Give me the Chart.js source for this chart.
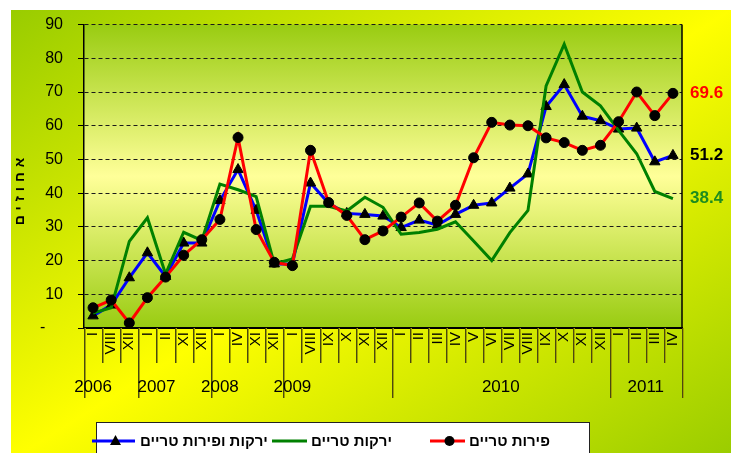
<!DOCTYPE html>
<html>
<head>
<meta charset="utf-8">
<script src="https://cdn.jsdelivr.net/npm/chart.js@4/dist/chart.umd.min.js"></script>
<style>
  html, body { margin: 0; padding: 0; background: #fff; }
  #wrap { width: 739px; height: 453px; }
</style>
</head>
<body>
<div id="wrap"><canvas id="chart" width="739" height="453"></canvas></div>
<script>
// month of each observation (roman numerals), grouped by year below
const months = ['I','VIII','XII', 'I','II','XI','XII', 'I','IV','XI','XII', 'I','VIII','IX','X','XI','XII',
  'I','II','III','IV','V','VI','VII','VIII','IX','X','XI','XII', 'I','II','III','IV'];
const years = ['2006','2007','2008','2009','2010','2011'];
const yearSpans = [3, 4, 4, 6, 12, 4];
const yearLabelAt = [0, 3.5, 7, 11, 22.5, 30.5];   // category index the year text is centred on

const fruitAndVeg = [3.6, 6.8, 14.9, 22.3, 15.3, 25.2, 25.2, 37.8, 47.0, 34.9, 19.0, 19.0, 43.0, 37.0, 34.0, 33.7, 33.2,
  29.8, 32.0, 30.5, 33.7, 36.4, 37.1, 41.5, 45.7, 65.7, 72.2, 62.8, 61.5, 59.0, 59.3, 49.3, 51.2];
const veg = [4.4, 6.0, 25.7, 32.7, 16.0, 28.4, 26.0, 42.7, 41.0, 39.0, 19.0, 20.5, 36.1, 36.1, 34.7, 38.8, 35.8,
  27.8, 28.3, 29.3, 31.5, 25.8, 20.0, 28.3, 34.9, 71.8, 84.2, 70.0, 65.9, 58.6, 51.7, 40.5, 38.4];
const fruit = [6.0, 8.3, 1.5, 9.0, 15.1, 21.6, 26.2, 32.2, 56.5, 29.2, 19.5, 18.5, 52.7, 37.2, 33.4, 26.2, 28.8,
  32.9, 37.1, 31.7, 36.4, 50.5, 61.0, 60.2, 60.0, 56.4, 55.0, 52.7, 54.2, 61.2, 70.0, 63.0, 69.6];

const seriesNames = ['ירקות ופירות טריים', 'ירקות טריים', 'פירות טריים'];
const seriesColors = ['#0000ff', '#008000', '#ff0000'];
const endLabelColors = ['#000000', '#1e8c1e', '#ff0000'];
const yTitle = 'אחוזים';

const FONT = '"Liberation Sans", Arial, sans-serif';
Chart.defaults.font.family = FONT;
Chart.defaults.color = '#000';

const backdrop = {
  id: 'backdrop',
  beforeDraw(chart) {
    const { ctx, chartArea: a } = chart;
    ctx.save();
    // diagonal green-yellow-green fill of the chart area
    const x0 = 11, y0 = 10, w = 720, h = 450;
    const vx = 1 / (2 * w), vy = 1 / (2 * h), n = vx * vx + vy * vy;
    const g = ctx.createLinearGradient(x0, y0, x0 + vx / n, y0 + vy / n);
    g.addColorStop(0, '#99cc00');
    g.addColorStop(0.5, '#ffff00');
    g.addColorStop(1, '#99cc00');
    ctx.fillStyle = g;
    ctx.fillRect(x0, y0, w, h);
    // plot area
    const pg = ctx.createLinearGradient(0, a.top, 0, a.bottom);
    pg.addColorStop(0, '#99cc11');
    pg.addColorStop(0.5, '#ffff99');
    pg.addColorStop(1, '#99cc11');
    ctx.fillStyle = pg;
    ctx.fillRect(a.left, a.top, a.width, a.height);
    ctx.restore();
  }
};

const extras = {
  id: 'extras',
  afterDraw(chart) {
    const { ctx, chartArea: a, scales: { x, y } } = chart;
    ctx.save();

    // right border of plot
    ctx.strokeStyle = '#000';
    ctx.lineWidth = 1.5;
    ctx.beginPath();
    ctx.moveTo(a.right, a.top);
    ctx.lineTo(a.right, a.bottom);
    ctx.stroke();

    // category separators below the axis, longer at year boundaries
    const step = x.getPixelForValue(1) - x.getPixelForValue(0);
    const yearEnds = [0];
    yearSpans.forEach(s => yearEnds.push(yearEnds[yearEnds.length - 1] + s));
    for (let i = 0; i <= months.length; i++) {
      const px = Math.round(x.getPixelForValue(i) - step / 2) + 0.5;
      const long = yearEnds.includes(i);
      const bottom = long ? a.bottom + 70 : a.bottom + 35;
      ctx.lineWidth = 1;
      ctx.strokeStyle = '#a3a300';
      ctx.beginPath(); ctx.moveTo(px + 1, a.bottom); ctx.lineTo(px + 1, bottom); ctx.stroke();
      ctx.strokeStyle = '#4a4a10';
      ctx.beginPath(); ctx.moveTo(px, a.bottom); ctx.lineTo(px, bottom); ctx.stroke();
    }

    // year labels
    ctx.fillStyle = '#000';
    ctx.font = '17px ' + FONT;
    ctx.textAlign = 'center';
    ctx.textBaseline = 'middle';
    years.forEach((yr, i) => ctx.fillText(yr, x.getPixelForValue(yearLabelAt[i]), a.bottom + 59));

    // last values at the right
    ctx.font = 'bold 17px ' + FONT;
    ctx.textAlign = 'left';
    chart.data.datasets.forEach((ds, i) => {
      const v = ds.data[ds.data.length - 1];
      ctx.fillStyle = endLabelColors[i];
      ctx.fillText(v.toFixed(1), a.right + 8, y.getPixelForValue(v));
    });

    // y axis title
    ctx.save();
    ctx.translate(20, 189);
    ctx.rotate(-Math.PI / 2);
    ctx.font = 'bold 14px ' + FONT;
    ctx.fillStyle = '#000';
    ctx.textAlign = 'center';
    ctx.textBaseline = 'middle';
    if ('letterSpacing' in ctx) ctx.letterSpacing = '5px';
    ctx.fillText(yTitle, 0, 0);
    ctx.restore();

    // legend box
    ctx.fillStyle = '#fff';
    ctx.fillRect(96, 422, 493, 40);
    ctx.strokeStyle = '#222';
    ctx.lineWidth = 1;
    ctx.strokeRect(96.5, 422.5, 493, 40);
    const items = [
      { ds: 0, x1: 92, x2: 135, tx: 140 },
      { ds: 1, x1: 272, x2: 307, tx: 311 },
      { ds: 2, x1: 430, x2: 465, tx: 469 }
    ];
    const ly = 441;
    items.forEach(it => {
      const ds = chart.data.datasets[it.ds];
      ctx.strokeStyle = ds.borderColor;
      ctx.lineWidth = 3;
      ctx.beginPath(); ctx.moveTo(it.x1, ly); ctx.lineTo(it.x2, ly); ctx.stroke();
      const cx = (it.x1 + it.x2) / 2 + 2;
      ctx.fillStyle = '#000';
      if (ds.pointStyle === 'triangle') {
        ctx.beginPath();
        ctx.moveTo(cx, ly - 6); ctx.lineTo(cx + 5.5, ly + 4); ctx.lineTo(cx - 5.5, ly + 4);
        ctx.closePath(); ctx.fill();
      } else if (ds.pointRadius > 0) {
        ctx.beginPath(); ctx.arc(cx, ly, 5, 0, Math.PI * 2); ctx.fill();
      }
      ctx.font = 'bold 15px ' + FONT;
      ctx.textAlign = 'left';
      ctx.textBaseline = 'middle';
      ctx.fillText(ds.label, it.tx, ly + 1);
    });

    ctx.restore();
  }
};

new Chart(document.getElementById('chart'), {
  type: 'line',
  data: {
    labels: months,
    datasets: [
      { label: seriesNames[0], data: fruitAndVeg, borderColor: seriesColors[0], backgroundColor: seriesColors[0],
        borderWidth: 3, pointStyle: 'triangle', pointRadius: 6, pointBackgroundColor: '#000', pointBorderColor: '#000',
        pointBorderWidth: 1, order: 2 },
      { label: seriesNames[1], data: veg, borderColor: seriesColors[1], backgroundColor: seriesColors[1],
        borderWidth: 3, pointRadius: 0, order: 1 },
      { label: seriesNames[2], data: fruit, borderColor: seriesColors[2], backgroundColor: seriesColors[2],
        borderWidth: 3, pointStyle: 'circle', pointRadius: 5, pointBackgroundColor: '#000', pointBorderColor: '#000',
        pointBorderWidth: 1, order: 0 }
    ]
  },
  options: {
    responsive: false, animation: false, devicePixelRatio: 1,
    layout: { padding: { top: 21, right: 57, bottom: 0, left: 0 } },
    plugins: { legend: { display: false }, tooltip: { enabled: false } },
    elements: { line: { tension: 0 } },
    scales: {
      x: {
        offset: true,
        grid: { display: false, drawTicks: false },
        border: { display: true, color: '#000', width: 2 },
        ticks: { autoSkip: false, minRotation: 90, maxRotation: 90, padding: 4, font: { size: 15 } },
        afterFit: s => { s.height = 125; }
      },
      y: {
        min: 0, max: 90,
        grid: { color: '#1a1a1a', lineWidth: 1, tickLength: 6, tickColor: '#000', borderDash: [4, 3] },
        border: { display: true, color: '#000', width: 1.5, dash: [4, 3] },
        ticks: { stepSize: 10, padding: 15, font: { size: 16 }, callback: v => v === 0 ? '-    ' : v },
        afterFit: s => { s.width = 84; }
      }
    }
  },
  plugins: [backdrop, extras]
});
</script>
</body>
</html>
